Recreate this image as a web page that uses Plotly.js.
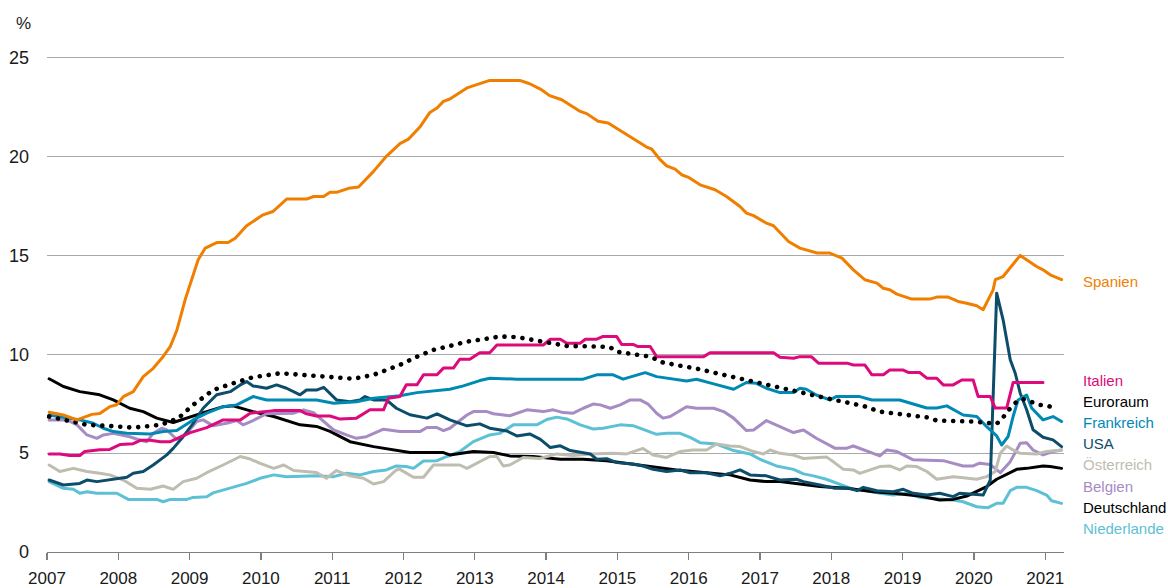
<!DOCTYPE html>
<html>
<head>
<meta charset="utf-8">
<script src="https://cdn.plot.ly/plotly-3.0.1.min.js"></script>
<style>
  html, body { margin: 0; padding: 0; background: #fff; }
  #chart { width: 1168px; height: 588px; }
  .js-line { stroke-linecap: round; stroke-linejoin: round; }
</style>
</head>
<body>
<div id="chart"></div>
<script>
// ---- Data: [year, unemployment rate %] ----
const spanien = [[2007.03,7.07],[2007.23,6.93],[2007.42,6.68],[2007.63,6.96],[2007.74,7.00],[2007.88,7.35],[2007.98,7.45],[2008.07,7.86],[2008.21,8.11],[2008.35,8.87],[2008.49,9.29],[2008.63,9.89],[2008.73,10.40],[2008.82,11.20],[2008.94,12.79],[2009.12,14.78],[2009.22,15.37],[2009.38,15.65],[2009.54,15.65],[2009.64,15.87],[2009.80,16.50],[2010.03,17.05],[2010.17,17.22],[2010.36,17.85],[2010.64,17.85],[2010.74,17.98],[2010.88,17.98],[2010.97,18.19],[2011.06,18.19],[2011.23,18.39],[2011.37,18.46],[2011.58,19.25],[2011.76,20.01],[2011.95,20.65],[2012.07,20.88],[2012.23,21.49],[2012.37,22.23],[2012.47,22.45],[2012.56,22.79],[2012.65,22.91],[2012.89,23.47],[2013.03,23.63],[2013.21,23.85],[2013.63,23.85],[2013.77,23.68],[2013.92,23.41],[2014.05,23.08],[2014.22,22.87],[2014.48,22.28],[2014.57,22.17],[2014.73,21.78],[2014.87,21.70],[2015.04,21.32],[2015.25,20.85],[2015.41,20.48],[2015.48,20.38],[2015.60,19.84],[2015.69,19.53],[2015.81,19.36],[2015.90,19.08],[2015.99,18.96],[2016.16,18.57],[2016.37,18.32],[2016.53,17.98],[2016.72,17.47],[2016.81,17.14],[2016.91,17.01],[2017.09,16.63],[2017.19,16.50],[2017.40,15.70],[2017.56,15.37],[2017.80,15.12],[2017.98,15.12],[2018.15,14.86],[2018.31,14.27],[2018.47,13.77],[2018.64,13.60],[2018.73,13.34],[2018.82,13.26],[2018.92,13.04],[2019.13,12.79],[2019.38,12.79],[2019.48,12.89],[2019.64,12.89],[2019.78,12.67],[2019.90,12.58],[2020.04,12.45],[2020.13,12.25],[2020.27,13.26],[2020.30,13.77],[2020.41,13.93],[2020.60,14.78],[2020.65,15.00],[2020.88,14.44],[2020.97,14.27],[2021.07,14.02],[2021.23,13.77]];

const italien = [[2007.03,4.96],[2007.18,4.96],[2007.32,4.88],[2007.46,4.88],[2007.53,5.08],[2007.74,5.17],[2007.88,5.19],[2008.03,5.44],[2008.21,5.48],[2008.31,5.65],[2008.45,5.65],[2008.59,5.58],[2008.73,5.58],[2008.87,5.80],[2009.01,6.04],[2009.24,6.29],[2009.47,6.68],[2009.71,6.68],[2009.85,7.02],[2010.18,7.15],[2010.55,7.15],[2010.64,6.99],[2010.78,6.88],[2010.97,6.88],[2011.11,6.72],[2011.34,6.77],[2011.53,7.19],[2011.72,7.19],[2011.79,7.78],[2011.95,7.86],[2012.04,8.46],[2012.19,8.46],[2012.28,8.96],[2012.47,8.96],[2012.56,9.30],[2012.70,9.30],[2012.79,9.75],[2012.93,9.75],[2013.07,10.08],[2013.21,10.08],[2013.31,10.47],[2013.96,10.47],[2014.06,10.76],[2014.20,10.76],[2014.29,10.56],[2014.48,10.56],[2014.55,10.76],[2014.71,10.76],[2014.80,10.90],[2014.99,10.90],[2015.06,10.50],[2015.22,10.50],[2015.29,10.39],[2015.46,10.39],[2015.55,9.88],[2016.21,9.88],[2016.30,10.08],[2017.19,10.08],[2017.28,9.85],[2017.47,9.80],[2017.56,9.88],[2017.72,9.88],[2017.82,9.55],[2018.22,9.55],[2018.31,9.46],[2018.47,9.46],[2018.57,8.96],[2018.73,8.96],[2018.82,9.20],[2019.01,9.20],[2019.08,9.08],[2019.24,9.08],[2019.34,8.79],[2019.48,8.79],[2019.57,8.45],[2019.71,8.45],[2019.83,8.70],[2019.99,8.70],[2020.06,7.86],[2020.23,7.86],[2020.30,7.28],[2020.46,7.28],[2020.55,8.57],[2020.97,8.57]];

const euroraum = [[2007.03,6.85],[2007.32,6.60],[2007.56,6.43],[2007.84,6.38],[2008.21,6.29],[2008.59,6.43],[2008.84,6.76],[2009.05,7.44],[2009.33,8.19],[2009.61,8.53],[2009.89,8.84],[2010.27,9.04],[2010.64,8.96],[2011.02,8.87],[2011.30,8.76],[2011.58,8.96],[2011.81,9.25],[2011.95,9.46],[2012.19,9.88],[2012.42,10.22],[2012.65,10.42],[2012.89,10.64],[2013.12,10.76],[2013.35,10.90],[2013.59,10.87],[2013.82,10.73],[2014.10,10.56],[2014.29,10.42],[2014.76,10.39],[2014.90,10.35],[2014.99,10.13],[2015.22,10.02],[2015.46,9.88],[2015.64,9.58],[2015.92,9.41],[2016.16,9.24],[2016.39,9.04],[2016.63,8.84],[2016.86,8.62],[2017.09,8.45],[2017.28,8.28],[2017.56,8.03],[2017.93,7.78],[2018.22,7.56],[2018.45,7.39],[2018.68,7.10],[2019.06,6.93],[2019.34,6.81],[2019.48,6.65],[2019.85,6.65],[2019.99,6.60],[2020.32,6.48],[2020.41,6.81],[2020.51,7.27],[2020.60,7.60],[2020.69,7.73],[2020.93,7.44],[2021.04,7.39],[2021.18,7.22]];

const frankreich = [[2007.03,6.93],[2007.46,6.68],[2007.65,6.51],[2007.79,6.26],[2007.93,6.09],[2008.12,6.00],[2008.45,5.97],[2008.63,6.09],[2008.82,6.14],[2008.91,6.34],[2009.05,6.68],[2009.24,7.02],[2009.47,7.35],[2009.66,7.44],[2009.89,7.86],[2010.08,7.69],[2010.78,7.69],[2011.02,7.52],[2011.34,7.60],[2011.58,7.78],[2011.81,7.86],[2011.95,7.90],[2012.19,8.06],[2012.42,8.16],[2012.65,8.23],[2012.84,8.40],[2013.07,8.67],[2013.21,8.79],[2013.59,8.74],[2014.52,8.74],[2014.71,8.96],[2014.94,8.96],[2015.08,8.74],[2015.39,9.07],[2015.55,8.87],[2015.97,8.65],[2016.11,8.74],[2016.35,8.50],[2016.63,8.23],[2016.81,8.57],[2016.95,8.53],[2017.09,8.28],[2017.28,8.06],[2017.47,8.06],[2017.56,8.28],[2017.65,8.23],[2017.79,7.94],[2017.98,7.69],[2018.07,7.86],[2018.40,7.86],[2018.57,7.69],[2018.96,7.69],[2019.34,7.28],[2019.48,7.28],[2019.62,7.39],[2019.85,6.93],[2020.04,6.85],[2020.18,6.34],[2020.32,5.87],[2020.39,5.41],[2020.48,5.84],[2020.55,6.85],[2020.62,7.69],[2020.74,7.94],[2020.81,7.28],[2020.97,6.68],[2021.11,6.85],[2021.23,6.60]];

const usa = [[2007.03,3.64],[2007.23,3.39],[2007.46,3.47],[2007.56,3.64],[2007.70,3.56],[2007.84,3.64],[2007.98,3.73],[2008.12,3.78],[2008.21,3.98],[2008.35,4.07],[2008.49,4.40],[2008.59,4.66],[2008.68,4.91],[2008.77,5.24],[2008.91,5.83],[2009.05,6.51],[2009.19,7.27],[2009.38,7.95],[2009.57,8.11],[2009.71,8.45],[2009.80,8.62],[2009.89,8.40],[2010.08,8.28],[2010.22,8.45],[2010.36,8.28],[2010.55,7.95],[2010.64,8.19],[2010.78,8.19],[2010.88,8.33],[2011.06,7.69],[2011.25,7.60],[2011.39,7.69],[2011.46,7.86],[2011.58,7.69],[2011.76,7.69],[2011.90,7.27],[2011.95,7.19],[2012.09,6.94],[2012.33,6.77],[2012.47,6.99],[2012.65,6.68],[2012.89,6.38],[2013.07,6.48],[2013.21,6.26],[2013.45,6.12],[2013.59,5.87],[2013.77,5.97],[2013.92,5.70],[2014.06,5.28],[2014.20,5.37],[2014.34,5.13],[2014.48,5.03],[2014.62,4.96],[2014.71,4.69],[2014.85,4.72],[2014.99,4.52],[2015.22,4.45],[2015.36,4.35],[2015.50,4.18],[2015.69,4.07],[2015.88,4.15],[2016.02,4.01],[2016.25,4.01],[2016.44,3.85],[2016.58,3.98],[2016.72,4.15],[2016.86,3.90],[2017.09,3.85],[2017.28,3.64],[2017.51,3.68],[2017.61,3.56],[2017.84,3.39],[2018.05,3.22],[2018.26,3.22],[2018.36,3.10],[2018.45,3.27],[2018.64,3.10],[2018.87,3.05],[2019.01,3.17],[2019.15,2.97],[2019.34,2.88],[2019.52,2.97],[2019.71,2.80],[2019.80,2.97],[2020.13,2.88],[2020.23,3.64],[2020.32,13.09],[2020.41,11.74],[2020.51,9.72],[2020.58,9.04],[2020.65,8.03],[2020.74,7.19],[2020.83,6.18],[2020.97,5.80],[2021.11,5.67],[2021.23,5.33]];

const oesterreich = [[2007.03,4.40],[2007.18,4.07],[2007.37,4.23],[2007.56,4.07],[2007.74,3.98],[2007.88,3.90],[2008.07,3.64],[2008.26,3.22],[2008.45,3.17],[2008.63,3.34],[2008.77,3.17],[2008.91,3.56],[2009.10,3.73],[2009.24,4.01],[2009.47,4.40],[2009.71,4.83],[2009.85,4.70],[2009.99,4.48],[2010.18,4.23],[2010.32,4.40],[2010.46,4.12],[2010.78,4.02],[2010.92,3.73],[2011.06,4.12],[2011.25,3.85],[2011.44,3.73],[2011.58,3.44],[2011.72,3.56],[2011.90,4.15],[2011.95,4.18],[2012.14,3.78],[2012.28,3.78],[2012.42,4.40],[2012.79,4.40],[2012.89,4.23],[2013.03,4.48],[2013.21,4.83],[2013.31,4.83],[2013.40,4.35],[2013.49,4.40],[2013.68,4.78],[2013.91,4.73],[2014.15,4.96],[2014.38,4.88],[2014.62,4.96],[2014.94,5.00],[2015.13,4.96],[2015.36,5.24],[2015.50,4.91],[2015.69,4.78],[2015.88,5.08],[2016.06,5.16],[2016.25,5.16],[2016.39,5.46],[2016.58,5.36],[2016.72,5.33],[2016.91,5.08],[2017.05,4.96],[2017.14,5.16],[2017.28,4.99],[2017.47,4.90],[2017.61,4.73],[2017.93,4.81],[2018.03,4.56],[2018.17,4.18],[2018.31,4.15],[2018.40,3.98],[2018.68,4.32],[2018.82,4.35],[2018.96,4.15],[2019.06,4.35],[2019.20,4.32],[2019.34,4.07],[2019.48,3.68],[2019.71,3.81],[2019.85,3.76],[2020.04,3.68],[2020.18,3.81],[2020.30,4.07],[2020.37,4.99],[2020.46,5.36],[2020.55,5.16],[2020.65,4.99],[2020.88,4.96],[2021.02,5.08],[2021.23,5.16]];

const belgien = [[2007.03,6.68],[2007.28,6.68],[2007.42,6.43],[2007.56,5.92],[2007.70,5.75],[2007.79,5.92],[2007.93,6.00],[2008.16,5.83],[2008.31,5.65],[2008.40,5.58],[2008.49,6.00],[2008.61,6.26],[2008.68,6.17],[2008.82,5.70],[2008.96,6.00],[2009.10,6.60],[2009.19,6.68],[2009.33,6.38],[2009.52,6.51],[2009.66,6.65],[2009.75,6.43],[2009.89,6.65],[2010.08,6.99],[2010.46,7.02],[2010.60,7.19],[2010.74,7.05],[2010.88,6.60],[2011.02,6.17],[2011.20,5.92],[2011.34,5.75],[2011.48,5.83],[2011.58,6.00],[2011.72,6.21],[2011.95,6.09],[2012.23,6.09],[2012.33,6.30],[2012.47,6.29],[2012.56,6.14],[2012.65,6.26],[2012.89,6.93],[2012.98,7.10],[2013.17,7.10],[2013.26,6.99],[2013.49,6.89],[2013.73,7.19],[2013.96,7.10],[2014.10,7.19],[2014.24,7.05],[2014.38,7.02],[2014.52,7.27],[2014.66,7.48],[2014.76,7.44],[2014.90,7.27],[2015.04,7.44],[2015.18,7.69],[2015.32,7.69],[2015.43,7.48],[2015.55,7.02],[2015.64,6.77],[2015.74,6.85],[2015.97,7.35],[2016.11,7.27],[2016.35,7.27],[2016.49,7.10],[2016.63,6.77],[2016.81,6.14],[2016.91,6.17],[2017.09,6.65],[2017.28,6.34],[2017.47,6.04],[2017.61,6.17],[2017.79,5.75],[2018.05,5.25],[2018.22,5.25],[2018.31,5.36],[2018.50,5.12],[2018.68,4.86],[2018.78,5.16],[2018.92,5.08],[2019.15,4.66],[2019.57,4.62],[2019.85,4.35],[2019.99,4.35],[2020.08,4.49],[2020.23,4.42],[2020.37,4.01],[2020.51,4.57],[2020.65,5.50],[2020.74,5.53],[2020.83,5.16],[2020.97,4.91],[2021.11,5.08],[2021.23,5.16]];

const deutschland = [[2007.03,8.76],[2007.23,8.37],[2007.46,8.11],[2007.74,7.95],[2007.93,7.69],[2008.16,7.27],[2008.35,7.10],[2008.54,6.77],[2008.77,6.55],[2009.01,6.85],[2009.24,7.10],[2009.47,7.35],[2009.61,7.39],[2009.89,7.10],[2010.18,6.85],[2010.55,6.43],[2010.78,6.35],[2010.97,6.10],[2011.25,5.58],[2011.58,5.33],[2011.95,5.10],[2012.09,5.03],[2012.56,5.03],[2012.65,4.91],[2012.98,5.08],[2013.26,5.03],[2013.49,4.86],[2013.82,4.83],[2014.20,4.69],[2014.52,4.69],[2014.85,4.62],[2015.13,4.48],[2015.50,4.32],[2015.83,4.15],[2016.25,4.01],[2016.58,3.90],[2016.86,3.64],[2017.09,3.56],[2017.28,3.56],[2017.56,3.44],[2017.84,3.31],[2018.22,3.22],[2018.59,3.05],[2018.87,2.97],[2019.24,2.83],[2019.52,2.63],[2019.71,2.66],[2019.90,2.83],[2020.04,3.05],[2020.18,3.31],[2020.32,3.68],[2020.46,3.95],[2020.60,4.18],[2020.74,4.23],[2020.97,4.35],[2021.07,4.32],[2021.23,4.23]];

const niederlande = [[2007.03,3.56],[2007.23,3.22],[2007.37,3.17],[2007.46,2.97],[2007.56,3.05],[2007.70,2.97],[2007.98,2.97],[2008.14,2.66],[2008.54,2.66],[2008.63,2.54],[2008.73,2.66],[2008.96,2.66],[2009.05,2.76],[2009.24,2.79],[2009.33,2.99],[2009.57,3.22],[2009.80,3.47],[2009.99,3.73],[2010.18,3.90],[2010.36,3.81],[2010.78,3.85],[2011.02,3.81],[2011.20,3.98],[2011.39,3.90],[2011.58,4.07],[2011.76,4.15],[2011.90,4.35],[2012.04,4.32],[2012.14,4.23],[2012.28,4.60],[2012.47,4.62],[2012.61,4.83],[2012.79,5.08],[2012.98,5.58],[2013.21,5.92],[2013.35,6.00],[2013.54,6.43],[2013.87,6.43],[2014.01,6.70],[2014.15,6.82],[2014.29,6.73],[2014.48,6.43],[2014.66,6.22],[2014.80,6.26],[2015.04,6.43],[2015.22,6.39],[2015.36,6.22],[2015.55,5.95],[2015.69,6.00],[2015.88,6.00],[2016.02,5.80],[2016.16,5.53],[2016.39,5.46],[2016.63,5.13],[2016.86,4.96],[2017.00,4.69],[2017.23,4.35],[2017.47,4.18],[2017.61,3.95],[2017.75,3.85],[2017.93,3.68],[2018.12,3.44],[2018.31,3.17],[2018.50,3.10],[2018.68,2.97],[2018.87,2.88],[2019.06,2.97],[2019.24,2.76],[2019.52,2.66],[2019.71,2.63],[2019.85,2.54],[2020.04,2.29],[2020.20,2.24],[2020.32,2.46],[2020.41,2.46],[2020.51,3.10],[2020.60,3.27],[2020.74,3.27],[2020.88,3.10],[2021.02,2.88],[2021.09,2.59],[2021.23,2.46]];

const yearTicks = [2007,2008,2009,2010,2011,2012,2013,2014,2015,2016,2017,2018,2019,2020,2021];
const yTicks = [0,5,10,15,20,25];

// ---- Styling / layout ----
const series = [
  {name:'Niederlande', data:niederlande, color:'#5CC1D4'},
  {name:'Deutschland', data:deutschland, color:'#000000'},
  {name:'Belgien', data:belgien, color:'#A78BC3'},
  {name:'Österreich', data:oesterreich, color:'#BFBDB0'},
  {name:'USA', data:usa, color:'#0C4D6B'},
  {name:'Frankreich', data:frankreich, color:'#0089B3'},
  {name:'Italien', data:italien, color:'#DD0A7C'},
  {name:'Euroraum', data:euroraum, color:'#000000', dotted:true},
  {name:'Spanien', data:spanien, color:'#F07F00'}
];

const traces = series.map(s => ({
  type:'scatter', mode:'lines', name:s.name,
  x: s.data.map(p => p[0]), y: s.data.map(p => p[1]),
  line: s.dotted ? {color:s.color, width:4.6, dash:'0.1px,8.9px'} : {color:s.color, width:3},
  hoverinfo:'x+y+name'
}));

const W = 1168, H = 588;
const M = {l:47, r:104, t:28, b:36};
const plotH = H - M.t - M.b;
const py = p => (H - M.b - p) / plotH;           // pixel y -> paper y
const px = p => (p - M.l) / (W - M.l - M.r);       // pixel x -> paper x

const legendItems = [
  ['Spanien', '#F07F00', 281],
  ['Italien', '#DD0A7C', 380],
  ['Euroraum', '#000000', 401.3],
  ['Frankreich', '#0089B3', 422.5],
  ['USA', '#0C4D6B', 443.7],
  ['Österreich', '#BFBDB0', 464.8],
  ['Belgien', '#A78BC3', 486],
  ['Deutschland', '#000000', 507.1],
  ['Niederlande', '#5CC1D4', 528.3]
];

const baseFont = 'Liberation Sans, Arial, sans-serif';
const annotations = legendItems.map(([t, c, y]) => ({
  text: t, xref:'paper', yref:'paper', x: px(1081), y: py(y),
  xanchor:'left', yanchor:'middle', showarrow:false,
  font:{family:baseFont, size:15, color:c}
}));
annotations.push({
  text:'%', xref:'paper', yref:'paper', x: px(23.5), y: py(23),
  xanchor:'center', yanchor:'middle', showarrow:false,
  font:{family:baseFont, size:17, color:'#1a1a1a'}
});

const tickFont = {family:baseFont, size:17, color:'#1a1a1a'};

const layout = {
  width:W, height:H, margin:M,
  paper_bgcolor:'#ffffff', plot_bgcolor:'#ffffff',
  showlegend:false,
  xaxis:{
    type:'linear', range:[2007, 2021.264],
    tickmode:'array', tickvals:yearTicks, ticktext:yearTicks.map(String),
    showgrid:false, zeroline:false,
    showline:true, linecolor:'#7f7f7f', linewidth:1.3,
    ticks:'outside', ticklen:7, tickwidth:1.3, tickcolor:'#7f7f7f',
    ticklabelstandoff:3,
    tickfont:tickFont, fixedrange:true
  },
  yaxis:{
    range:[0, 26.5], tickmode:'array', tickvals:yTicks,
    showgrid:true, gridcolor:'#a9a9a9', gridwidth:1.2,
    zeroline:false, showline:false, ticks:'',
    ticklabelstandoff:17,
    tickfont:{family:baseFont, size:18, color:'#1a1a1a'}, fixedrange:true
  },
  annotations: annotations
};

Plotly.newPlot('chart', traces, layout, {displayModeBar:false, staticPlot:true});
</script>
</body>
</html>
